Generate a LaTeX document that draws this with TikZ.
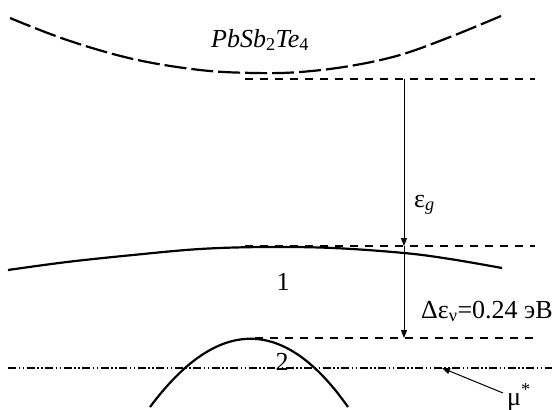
\documentclass[tikz,border=0pt]{standalone}
\usepackage{fontspec}
\setmainfont{Liberation Serif}
\usetikzlibrary{arrows.meta}
\tikzset{
  lbl/.style={inner sep=0pt, font=\fontsize{26}{30}\selectfont},
  band/.style={line width=2.2pt, line cap=butt},
  cband/.style={band, dash pattern=on 22pt off 5pt},
  lvl/.style={line width=1.3pt, dash pattern=on 8pt off 7pt},
  mulvl/.style={line width=1.2pt, dash pattern=on 8pt off 2.5pt on 1.5pt off 2.5pt on 1.5pt off 2.5pt},
  gap/.style={line width=1pt, -{Triangle[length=8pt,width=6pt]}}
}
\begin{document}
\begin{tikzpicture}[x=1pt, y=-1pt]
  \useasboundingbox (0,0) rectangle (558,410);
  \coordinate (cb) at (404,79);
  \coordinate (vb1) at (404,246);
  \coordinate (vb2) at (404,338);
  \coordinate (mupt) at (442,368);
  \coordinate (mutail) at (503,393);
  \draw[cband] plot[smooth, tension=0.6] coordinates
    {(10,18) (67,40) (133,59) (200,70) (255,73) (300,72) (350,66) (400,55) (450,37) (501,16)};
  \draw[band] plot[smooth, tension=0.6] coordinates
    {(8,270) (67,262) (133,255) (200,249) (265,247) (333,248) (404,253) (450,259) (502,268)};
  \draw[band] (150,407) .. controls (218,316) and (284,316) .. (348,407);
  \draw[lvl] (245,79) -- (535,79);
  \draw[lvl] (245,246) -- (535,246);
  \draw[lvl] (255,338) -- (535,338);
  \draw[mulvl] (8,368) -- (552,368);
  \draw[gap] (cb) -- (vb1);
  \draw[gap] (vb1) -- (vb2);
  \draw[gap] (mutail) -- (mupt);
  \node[lbl, anchor=base west] (cmp) at (211,47) {\textit{PbSb}\textsubscript{2}\textit{Te}\textsubscript{4}};
  \node[lbl, anchor=base west] (eg) at (414,207) {ε\textsubscript{\textit{g}}};
  \node[lbl, anchor=base west] (dev) at (421,318) {Δε\textsubscript{ν}=0.24 эВ};
  \node[lbl, anchor=base] (b1) at (283,290) {1};
  \node[lbl, anchor=base] (b2) at (282,370) {2};
  \node[lbl, anchor=base west] (mu) at (507,405) {μ\textsuperscript{*}};
\end{tikzpicture}
\end{document}
